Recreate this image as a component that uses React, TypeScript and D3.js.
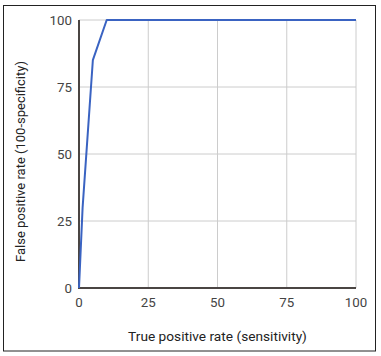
import React from "react";
import * as d3 from "d3";

const xValues = [0, 1.3, 5, 10, 100];
const yValues = [0, 30, 85, 100, 100];
const xTicks = [0, 25, 50, 75, 100];
const yTicks = [0, 25, 50, 75, 100];
const xTitle = "True positive rate (sensitivity)";
const yTitle = "False positive rate (100-specificity)";

export default function App() {
  const W = 381, H = 356;
  const left = 79, right = 356, top = 20, bottom = 288;
  const x = d3.scaleLinear().domain([0, 100]).range([left, right]);
  const y = d3.scaleLinear().domain([0, 100]).range([bottom, top]);
  const pts = xValues.map((v, i) => [v, yValues[i]] as [number, number]);
  const line = d3.line<[number, number]>().x(d => x(d[0])).y(d => y(d[1]));
  const font = "Roboto, 'Noto Sans', Arial, sans-serif";
  return (
    <svg width={W} height={H} style={{ position: "absolute", left: 0, top: 0, background: "#fff" }}>
      <rect x={3.5} y={5.5} width={372} height={345.5} fill="#fff" stroke="#222" strokeWidth={1} />
      {xTicks.filter(t => t !== 0).map(t => (
        <line key={"gx" + t} x1={x(t)} x2={x(t)} y1={y(0)} y2={y(100)} stroke="#ccc" strokeWidth={1} />
      ))}
      {yTicks.filter(t => t !== 0).map(t => (
        <line key={"gy" + t} x1={x(0)} x2={x(100)} y1={y(t)} y2={y(t)} stroke="#ccc" strokeWidth={1} />
      ))}
      <line x1={x(0)} x2={x(0)} y1={y(0) + 1} y2={y(100)} stroke="#4a4543" strokeWidth={2} />
      <line x1={x(0) - 1} x2={x(100)} y1={y(0)} y2={y(0)} stroke="#4a4543" strokeWidth={2} />
      <path d={line(pts) || ""} fill="none" stroke="#3a63c2" strokeWidth={2} strokeLinejoin="round" />
      {yTicks.map(t => (
        <text key={"ty" + t} x={72} y={y(t)} dy="0.35em" textAnchor="end" fontFamily={font} fontSize={13.3} fill="#444">{t}</text>
      ))}
      {xTicks.map(t => (
        <text key={"tx" + t} x={x(t)} y={307} textAnchor="middle" fontFamily={font} fontSize={13.3} fill="#444">{t}</text>
      ))}
      <text x={(left + right) / 2} y={341} textAnchor="middle" fontFamily={font} fontSize={13.7} fill="#222">{xTitle}</text>
      <text transform={`translate(25,161.5) rotate(-90)`} textAnchor="middle" fontFamily={font} fontSize={13} fill="#222">{yTitle}</text>
    </svg>
  );
}
